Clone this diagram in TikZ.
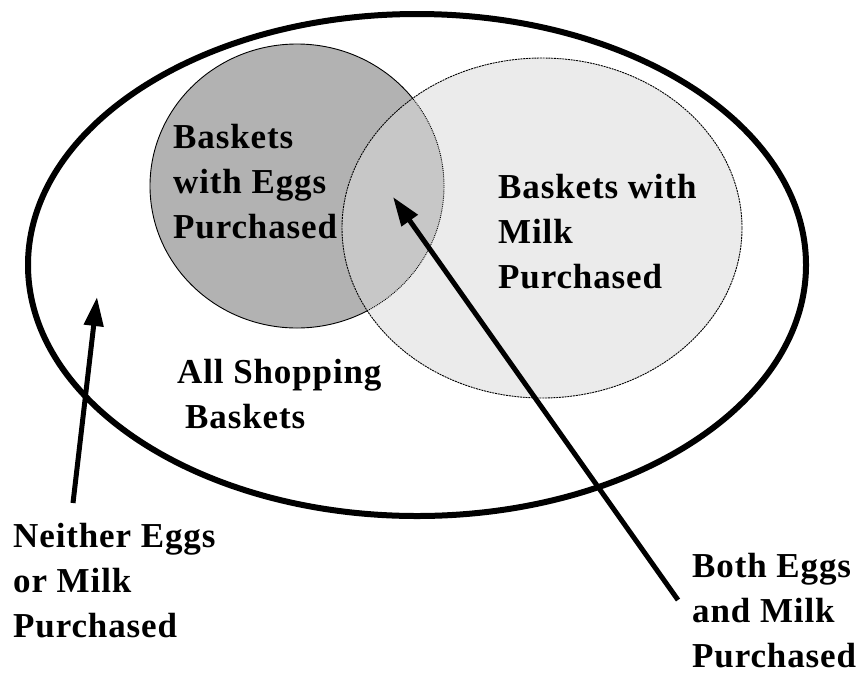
\documentclass[tikz,border=0pt]{standalone}
\usepackage{fontspec}
\setmainfont[LetterSpace=2.5]{Liberation Serif}
\usetikzlibrary{arrows.meta}

\definecolor{eggfill}{gray}{0.70}
\definecolor{milkfill}{gray}{0.92}
\definecolor{bothfill}{gray}{0.78}

\tikzset{
  labeltext/.style={anchor=base west, inner sep=0pt,
    font=\fontsize{35}{45}\selectfont\bfseries},
  pointer/.style={line width=5pt, -{Triangle[length=29pt,width=19pt]}},
  setline/.style={line width=0.9pt},
}

% the two sets of the Venn diagram
\def\eggsregion{(297,186) ellipse [x radius=147pt, y radius=142pt]}
\def\milkregion{(542,228) ellipse [x radius=200pt, y radius=170pt]}

\begin{document}
\begin{tikzpicture}[x=1pt,y=-1pt]
  \useasboundingbox (0,0) rectangle (858,673);

  % fills: eggs, milk, and their overlap
  \fill[eggfill] \eggsregion;
  \fill[milkfill] \milkregion;
  \begin{scope}
    \clip \eggsregion;
    \fill[bothfill] \milkregion;
  \end{scope}

  % outline of the eggs set: solid outside milk, dotted inside it
  \begin{scope}[even odd rule]
    \clip (0,0) rectangle (858,673) \milkregion;
    \draw[setline] \eggsregion;
  \end{scope}
  \begin{scope}
    \clip \milkregion;
    \draw[setline, densely dotted] \eggsregion;
  \end{scope}
  \draw[setline, dash pattern=on 2pt off 0.8pt] \milkregion;

  % the universe: all baskets
  \draw[line width=6pt] (417,265) ellipse [x radius=389pt, y radius=251pt];

  % labels
  \node[labeltext] (eggs) at (173,148)
    {\begin{tabular}[t]{@{}l@{}}Baskets\\with Eggs\\Purchased\end{tabular}};
  \node[labeltext] (milk) at (498,198)
    {\begin{tabular}[t]{@{}l@{}}Baskets with\\Milk\\Purchased\end{tabular}};
  \node[labeltext] (all) at (177,383)
    {\begin{tabular}[t]{@{}l@{}}All Shopping\\\hspace*{8pt}Baskets\end{tabular}};
  \node[labeltext] (neither) at (13,547)
    {\begin{tabular}[t]{@{}l@{}}Neither Eggs\\or Milk\\Purchased\end{tabular}};
  \node[labeltext] (both) at (692,577)
    {\begin{tabular}[t]{@{}l@{}}Both Eggs\\and Milk\\Purchased\end{tabular}};

  % pointers
  \coordinate (neitherTail) at (73,503);
  \coordinate (neitherTip) at (97,297);
  \coordinate (bothTail) at (678,600);
  \coordinate (bothTip) at (393,197);
  \draw[pointer] (neitherTail) -- (neitherTip);
  \draw[pointer] (bothTail) -- (bothTip);
\end{tikzpicture}
\end{document}
